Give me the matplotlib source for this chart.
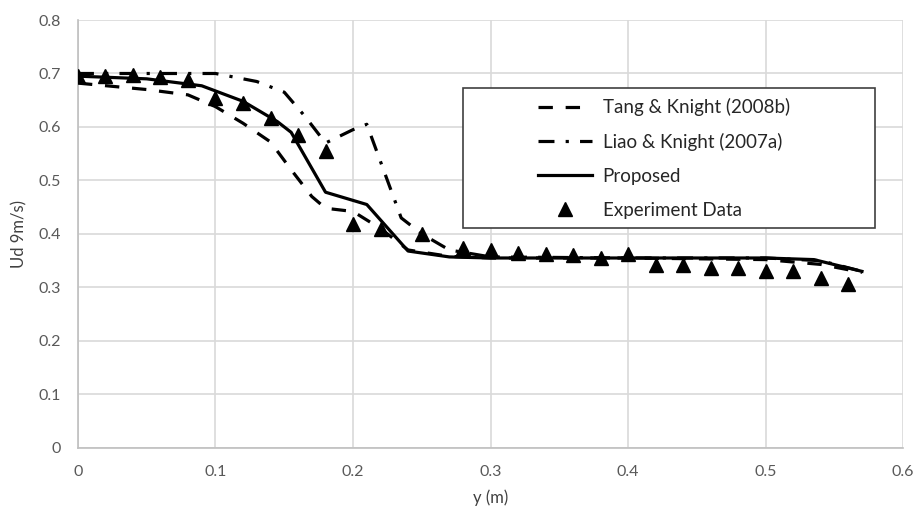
import matplotlib
matplotlib.use("Agg")
import matplotlib.pyplot as plt
from matplotlib.patches import Rectangle

plt.rcParams['font.family'] = ['Lato', 'DejaVu Sans']

# experiment data (triangles)
exp_y = [0, 0.02, 0.04, 0.06, 0.08, 0.10, 0.12, 0.14, 0.16, 0.18, 0.20, 0.22,
         0.25, 0.28, 0.30, 0.32, 0.34, 0.36, 0.38, 0.40, 0.42, 0.44, 0.46, 0.48,
         0.50, 0.52, 0.54, 0.56]
exp_ud = [0.695, 0.695, 0.697, 0.693, 0.688, 0.655, 0.645, 0.617, 0.585, 0.555, 0.418, 0.41,
          0.40, 0.373, 0.37, 0.365, 0.362, 0.36, 0.355, 0.362, 0.342, 0.342, 0.336, 0.336,
          0.331, 0.331, 0.318, 0.306]

# Tang & Knight (2008b)
tang_y = [0, 0.05, 0.08, 0.10, 0.12, 0.14, 0.155, 0.17, 0.18, 0.20, 0.22, 0.24,
          0.27, 0.30, 0.40, 0.50, 0.54, 0.57]
tang_ud = [0.682, 0.67, 0.66, 0.638, 0.607, 0.572, 0.52, 0.47, 0.448, 0.442, 0.41, 0.37,
           0.358, 0.355, 0.355, 0.352, 0.343, 0.328]

# Liao & Knight (2007a)
liao_y = [0, 0.05, 0.10, 0.13, 0.15, 0.165, 0.18, 0.20, 0.21, 0.235, 0.25, 0.27,
          0.30, 0.40, 0.50, 0.54, 0.57]
liao_ud = [0.70, 0.70, 0.70, 0.685, 0.665, 0.62, 0.57, 0.595, 0.605, 0.43, 0.40, 0.37,
           0.357, 0.355, 0.355, 0.35, 0.33]

# Proposed
prop_y = [0, 0.05, 0.09, 0.12, 0.145, 0.155, 0.18, 0.21, 0.24, 0.27, 0.30, 0.40,
          0.50, 0.535, 0.57]
prop_ud = [0.695, 0.69, 0.677, 0.648, 0.61, 0.59, 0.478, 0.455, 0.368, 0.357, 0.355, 0.355,
           0.355, 0.352, 0.33]

W, H = 917, 513
fig = plt.figure(figsize=(W / 100, H / 100), dpi=100)
ax = fig.add_axes([0.085, 0.127, 0.9, 0.834])

ax.plot(tang_y, tang_ud, color='black', lw=2.3, dashes=(4.5, 4),
        label='Tang & Knight (2008b)', zorder=3)
ax.plot(liao_y, liao_ud, color='black', lw=2.3, dashes=(5, 3.5, 1, 3.5),
        label='Liao & Knight (2007a)', zorder=3)
ax.plot(prop_y, prop_ud, color='black', lw=2.3, label='Proposed', zorder=3)
ax.plot(exp_y, exp_ud, ls='none', marker='^', ms=10, color='black',
        label='Experiment Data', zorder=4)

ax.set_xlim(0, 0.6)
ax.set_ylim(0, 0.8)
ax.set_xticks([0, 0.1, 0.2, 0.3, 0.4, 0.5, 0.6])
ax.set_xticklabels(['0', '0.1', '0.2', '0.3', '0.4', '0.5', '0.6'])
ax.set_yticks([0, 0.1, 0.2, 0.3, 0.4, 0.5, 0.6, 0.7, 0.8])
ax.set_yticklabels(['0', '0.1', '0.2', '0.3', '0.4', '0.5', '0.6', '0.7', '0.8'])
ax.grid(True, color='#d9d9d9', lw=1.2)
ax.set_axisbelow(True)
for s in ['top', 'right']:
    ax.spines[s].set_visible(False)
for s in ['left', 'bottom']:
    ax.spines[s].set_color('#bfbfbf')
    ax.spines[s].set_linewidth(1.2)
ax.tick_params(length=0, labelsize=11.5, colors='#595959', pad=12)
ax.set_xlabel('y (m)', fontsize=12, color='#404040', labelpad=8)
ax.set_ylabel('Ud 9m/s)', fontsize=12, color='#404040', labelpad=8)

# legend box (wide, white, thin dark frame) drawn separately
box = Rectangle((463 / W, 1 - 228 / H), 412 / W, 140 / H, transform=fig.transFigure,
                facecolor='white', edgecolor='#404040', lw=1.2, zorder=5, clip_on=False)
ax.add_patch(box)

leg = ax.legend(loc='upper left', bbox_to_anchor=(538 / W, 1 - 98 / H),
                bbox_transform=fig.transFigure, fontsize=13.5, frameon=False,
                handlelength=2.9, borderpad=0, labelspacing=0.9,
                borderaxespad=0, handletextpad=0.55)
leg.set_zorder(6)
for t in leg.get_texts():
    t.set_color('#262626')

fig.savefig('out.png', dpi=100, facecolor='white')
